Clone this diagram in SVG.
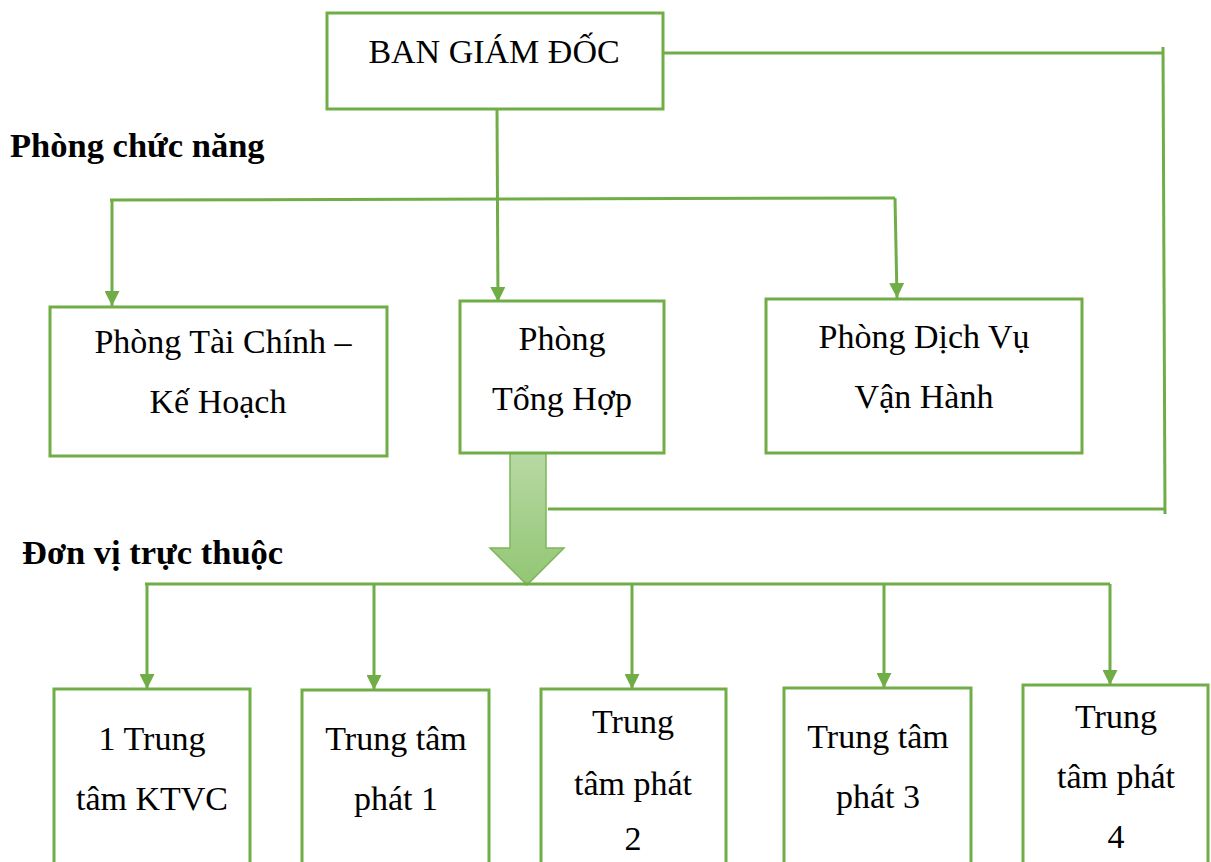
<svg xmlns="http://www.w3.org/2000/svg" width="1211" height="862" viewBox="0 0 1211 862">
  <defs>
    <marker id="tri" viewBox="0 0 10 10" refX="10" refY="5" markerWidth="5" markerHeight="5" markerUnits="strokeWidth" orient="auto">
      <path d="M0,0 L10,5 L0,10 Z" fill="#70AD47"/>
    </marker>
    <linearGradient id="bigArrowFill" x1="0" y1="0" x2="0" y2="1">
      <stop offset="0" stop-color="#B7D9A4"/>
      <stop offset="1" stop-color="#93C674"/>
    </linearGradient>
  </defs>
  <style>
    .box { fill: #FFFFFF; stroke: #70AD47; stroke-width: 3; }
    .wire { fill: none; stroke: #70AD47; stroke-width: 3; }
    .arrow { fill: none; stroke: #70AD47; stroke-width: 3; marker-end: url(#tri); }
    .lbl { font-family: "Liberation Serif", "Times New Roman", serif; font-size: 34px; fill: #000; text-anchor: middle; }
    .hdr { font-family: "Liberation Serif", "Times New Roman", serif; font-size: 34.5px; font-weight: bold; fill: #000; }
  </style>
  <rect width="1211" height="862" fill="#FFFFFF"/>

  <!-- section headings -->
  <text class="hdr" x="10" y="157">Phòng chức năng</text>
  <text class="hdr" x="22" y="564">Đơn vị trực thuộc</text>

  <!-- connectors -->
  <g id="connectors">
    <!-- director to side rail -->
    <polyline class="wire" points="663,53 1163,53"/>
    <line class="wire" x1="1163" y1="47" x2="1165" y2="514"/>
    <line class="wire" x1="548" y1="509" x2="1166" y2="509"/>
    <!-- director down to functional departments -->
    <line class="arrow" x1="497" y1="109" x2="498" y2="302"/>
    <line class="wire" x1="110" y1="200" x2="895" y2="198"/>
    <line class="arrow" x1="112" y1="200" x2="112" y2="306"/>
    <line class="arrow" x1="895" y1="198" x2="897" y2="298"/>
    <!-- big block arrow to units -->
    <path d="M510,453 L546,453 L546,548 L564,548 L527,585 L490,548 L510,548 Z" fill="url(#bigArrowFill)" stroke="#7DB55A" stroke-width="1.5"/>
    <!-- distribution bus to units -->
    <line class="wire" x1="145" y1="584" x2="1110" y2="584"/>
    <line class="arrow" x1="147" y1="584" x2="147" y2="689"/>
    <line class="arrow" x1="374" y1="584" x2="374" y2="690"/>
    <line class="arrow" x1="632" y1="584" x2="632" y2="689"/>
    <line class="arrow" x1="884" y1="584" x2="884" y2="688"/>
    <line class="arrow" x1="1110" y1="584" x2="1110" y2="685"/>
  </g>

  <g id="ban-giam-doc">
    <rect class="box" x="327" y="13" width="336" height="96"/>
    <text class="lbl" x="494" y="63">BAN GIÁM ĐỐC</text>
  </g>

  <g id="phong-tai-chinh">
    <rect class="box" x="50" y="307" width="337" height="149"/>
    <text class="lbl" x="223" y="353">Phòng Tài Chính –</text>
    <text class="lbl" x="218" y="413">Kế Hoạch</text>
  </g>

  <g id="phong-tong-hop">
    <rect class="box" x="460" y="301" width="204" height="152"/>
    <text class="lbl" x="562" y="350">Phòng</text>
    <text class="lbl" x="562" y="410">Tổng Hợp</text>
  </g>

  <g id="phong-dich-vu">
    <rect class="box" x="766" y="299" width="316" height="154"/>
    <text class="lbl" x="924" y="348">Phòng Dịch Vụ</text>
    <text class="lbl" x="924" y="408">Vận Hành</text>
  </g>

  <g id="trung-tam-ktvc">
    <rect class="box" x="54" y="689" width="196" height="180"/>
    <text class="lbl" x="152" y="750">1 Trung</text>
    <text class="lbl" x="152" y="810">tâm KTVC</text>
  </g>

  <g id="trung-tam-phat-1">
    <rect class="box" x="302" y="690" width="187" height="180"/>
    <text class="lbl" x="396" y="750">Trung tâm</text>
    <text class="lbl" x="396" y="810">phát 1</text>
  </g>

  <g id="trung-tam-phat-2">
    <rect class="box" x="541" y="689" width="185" height="180"/>
    <text class="lbl" x="633" y="733">Trung</text>
    <text class="lbl" x="633" y="795">tâm phát</text>
    <text class="lbl" x="633" y="850">2</text>
  </g>

  <g id="trung-tam-phat-3">
    <rect class="box" x="784" y="688" width="187" height="180"/>
    <text class="lbl" x="878" y="748">Trung tâm</text>
    <text class="lbl" x="878" y="808">phát 3</text>
  </g>

  <g id="trung-tam-phat-4">
    <rect class="box" x="1023" y="685" width="185" height="185"/>
    <text class="lbl" x="1116" y="728">Trung</text>
    <text class="lbl" x="1116" y="788">tâm phát</text>
    <text class="lbl" x="1116" y="848">4</text>
  </g>
</svg>
